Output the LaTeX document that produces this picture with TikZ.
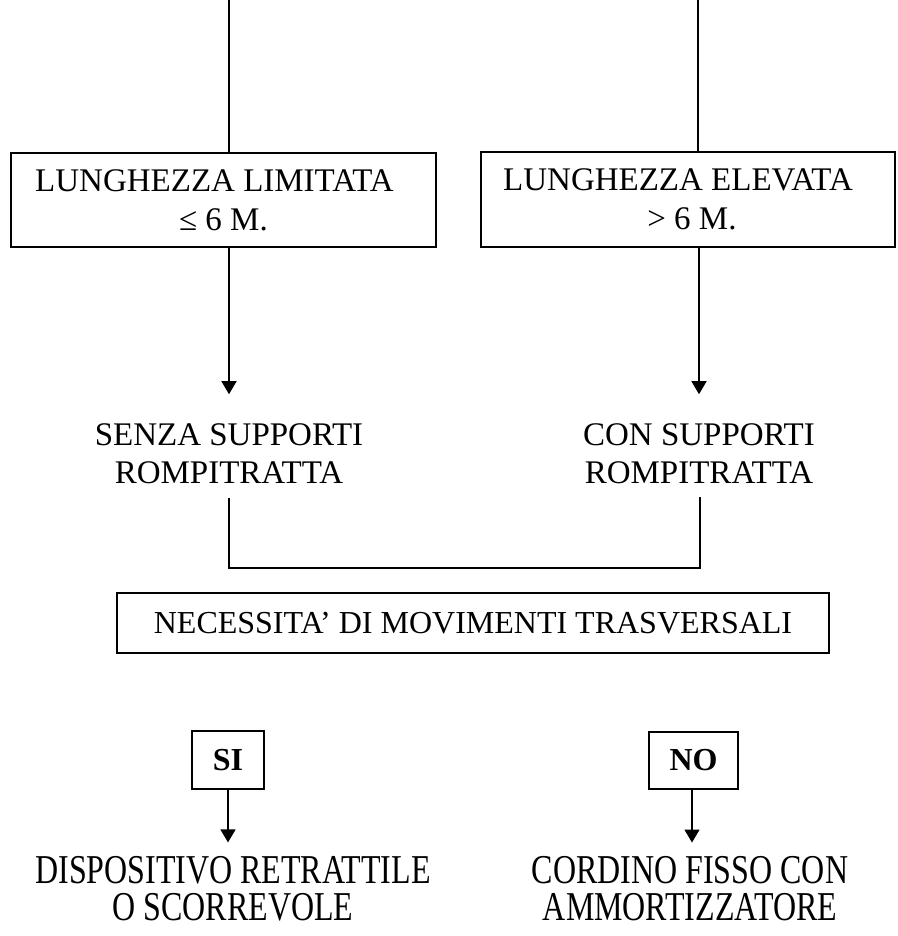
\documentclass[tikz,border=0pt]{standalone}
\usepackage{fontspec}
\setmainfont{Liberation Serif}
\newfontfamily\narrowserif[FakeStretch=0.78]{Liberation Serif}
\usetikzlibrary{arrows.meta,calc}
\tikzset{
  box/.style={draw,line width=1.4pt,inner sep=0pt,align=center,font=\fontsize{33}{39}\selectfont},
  lbl/.style={inner sep=0pt,align=center,font=\fontsize{33}{38}\selectfont},
  endlbl/.style={inner sep=0pt,align=center,font=\narrowserif\fontsize{41}{37}\selectfont},
  ln/.style={line width=1.4pt},
  arr/.style={line width=1.4pt,-{Triangle[length=13pt,width=15pt]}}
}
\begin{document}
\begin{tikzpicture}[x=1pt,y=-1pt]
\useasboundingbox (0,0) rectangle (897,936);
% top boxes
\node[box,minimum width=425pt,minimum height=94pt] (b1) at (223.5,200)
  {LUNGHEZZA LIMITATA\hspace*{18pt}\\≤ 6 M.};
\node[box,minimum width=414pt,minimum height=95pt] (b2) at (688,199.5)
  {LUNGHEZZA ELEVATA\hspace*{20pt}\\\hspace*{8pt}> 6 M.};
\coordinate (t1) at (229,0);
\coordinate (t2) at (698,0);
\draw[ln] (t1) -- (t1 |- b1.north);
\draw[ln] (t2) -- (t2 |- b2.north);
% middle labels
\node[lbl] (senza) at (229,453.5) {SENZA SUPPORTI\\ROMPITRATTA};
\node[lbl] (con) at (699,453.5) {CON SUPPORTI\\ROMPITRATTA};
\draw[arr,shorten >=29pt] (senza |- b1.south) -- (senza.north);
\draw[arr,shorten >=29pt] (con |- b2.south) -- (con.north);
% join
\coordinate (j1) at (229,568);
\coordinate (j2) at (700,568);
\draw[ln] ([yshift=-14pt]senza.south) -- (j1) -- (j2) -- ([yshift=-13pt]con.south -| j2);
% decision box
\node[box,minimum width=712pt,minimum height=60pt,font=\fontsize{32}{38}\selectfont] (nec) at (473,623)
  {NECESSITA’ DI MOVIMENTI TRASVERSALI};
% SI / NO
\node[box,minimum width=72pt,minimum height=58pt,font=\bfseries\fontsize{32}{38}\selectfont] (si) at (228,760) {SI};
\node[box,minimum width=89pt,minimum height=57pt,font=\bfseries\fontsize{32}{38}\selectfont] (no) at (693.5,760.5) {NO};
% results
\node[endlbl] (dis) at (233,889) {DISPOSITIVO RETRATTILE\\O SCORREVOLE};
\node[endlbl] (cor) at (690,889) {CORDINO FISSO CON\\AMMORTIZZATORE};
\draw[arr,shorten >=14pt] (si.south) -- (si.south |- dis.north);
\draw[arr,shorten >=14pt] (no.south -| 692,0) -- (692,0 |- cor.north);
\end{tikzpicture}
\end{document}
